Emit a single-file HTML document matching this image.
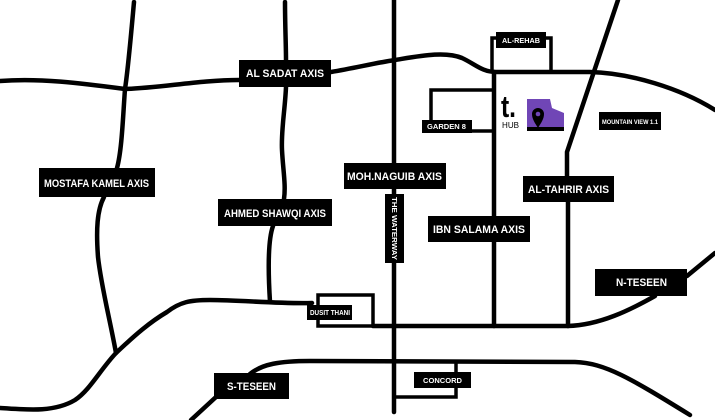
<!DOCTYPE html>
<html><head><meta charset="utf-8"><style>
html,body{margin:0;padding:0;background:#fff;}
svg{display:block;}
text{font-family:"Liberation Sans",sans-serif;font-weight:bold;fill:#fff;}
</style></head><body>
<svg width="715" height="420" viewBox="0 0 715 420" xmlns="http://www.w3.org/2000/svg">
<rect width="715" height="420" fill="#fff"/>
<g fill="none" stroke="#000" stroke-width="4.5" stroke-linecap="round" stroke-linejoin="round">
  <path d="M134 2 C131 35,128 70,125 89 C123 115,122 150,117 168"/>
  <path d="M104 197 C97 210,96 230,98 257 C101 285,110 320,116 353"/>
  <path d="M0 81 C40 78,80 83,125 89 C160 88,200 80,239 80"/>
  <path d="M285 2 C285 25,286 45,286 60"/>
  <path d="M286 87 C285 110,281 130,282 150 C283 170,286 185,284 199"/>
  <path d="M273 226 C268 240,268 270,270 302"/>
  <path d="M0 408 C30 410,55 412,75 400 C90 390,100 370,116 353 C135 335,150 322,167 312 C180 302,190 300,210 300 C240 300,280 304,312 303"/>
  <path d="M331 72 C355 68,375 63,395 60 C420 56,445 51,462 58 C475 64,482 72,496 72 L590 72 C630 73,680 88,715 110"/>
  <path d="M394 0 L394 412"/>
  <path d="M494 72 L494 326"/>
  <path d="M618 0 L567 152 L567 176"/>
  <path d="M568 202 L568 326"/>
  <path d="M373 326 L568 326 C600 325,630 310,655 296"/>
  <path d="M687 276 L715 253"/>
  <path d="M250 374 C262 364,280 361,310 361 L575 362 C605 363,630 378,690 415"/>
  <path d="M216 397 L191 420"/>
</g>
<g fill="none" stroke="#000" stroke-width="3.5" stroke-linejoin="miter">
  <path d="M318 305 L318 295 L373 295 L373 326 L318 326 L318 320"/>
  <path d="M456 362 L456 397 L394 397"/>
  <path d="M492 72 L492 38 L551 38 L551 72"/>
  <path d="M494 90 L431 90 L431 120"/>
  <path d="M472 131 L494 131"/>
</g>
<g fill="#000">
  <rect x="239" y="60" width="92" height="27"/>
  <rect x="39" y="168" width="116" height="29"/>
  <rect x="218" y="199" width="114" height="27"/>
  <rect x="344" y="163" width="102" height="26"/>
  <rect x="385" y="194" width="19" height="69"/>
  <rect x="428" y="216" width="102" height="26"/>
  <rect x="523" y="176" width="91" height="26"/>
  <rect x="595" y="269" width="92" height="27"/>
  <rect x="214" y="373" width="75" height="26"/>
  <rect x="307" y="305" width="45" height="15"/>
  <rect x="414" y="372" width="57" height="16"/>
  <rect x="422" y="120" width="50" height="13"/>
  <rect x="496" y="32" width="50" height="16"/>
  <rect x="599" y="112" width="62" height="18"/>
</g>
<g>
  <text x="246" y="77" font-size="11" textLength="78" lengthAdjust="spacingAndGlyphs">AL SADAT AXIS</text>
  <text x="44" y="187" font-size="11" textLength="105" lengthAdjust="spacingAndGlyphs">MOSTAFA KAMEL AXIS</text>
  <text x="224" y="217" font-size="11" textLength="102" lengthAdjust="spacingAndGlyphs">AHMED SHAWQI AXIS</text>
  <text x="347" y="180" font-size="11" textLength="95" lengthAdjust="spacingAndGlyphs">MOH.NAGUIB AXIS</text>
  <text x="433" y="233" font-size="11" textLength="92" lengthAdjust="spacingAndGlyphs">IBN SALAMA AXIS</text>
  <text x="528" y="193" font-size="11" textLength="81" lengthAdjust="spacingAndGlyphs">AL-TAHRIR AXIS</text>
  <text x="616" y="286" font-size="11" textLength="51" lengthAdjust="spacingAndGlyphs">N-TESEEN</text>
  <text x="227" y="390" font-size="11" textLength="49" lengthAdjust="spacingAndGlyphs">S-TESEEN</text>
  <text x="310" y="315" font-size="7" textLength="40" lengthAdjust="spacingAndGlyphs">DUSIT THANI</text>
  <text x="423" y="383" font-size="7" textLength="39" lengthAdjust="spacingAndGlyphs">CONCORD</text>
  <text x="427" y="129" font-size="7" textLength="39" lengthAdjust="spacingAndGlyphs">GARDEN 8</text>
  <text x="502" y="43" font-size="7" textLength="38" lengthAdjust="spacingAndGlyphs">AL-REHAB</text>
  <text x="602" y="124" font-size="6" textLength="56" lengthAdjust="spacingAndGlyphs">MOUNTAIN VIEW 1.1</text>
  <text transform="translate(392,197) rotate(90)" font-size="7" textLength="63" lengthAdjust="spacingAndGlyphs">THE WATERWAY</text>
</g>
<text x="501" y="117" font-size="31" textLength="15" lengthAdjust="spacingAndGlyphs" style="font-weight:bold;fill:#000">t.</text>
<text x="502" y="128" font-size="8" textLength="17" lengthAdjust="spacingAndGlyphs" style="font-weight:normal;fill:#000">HUB</text>
<path d="M527 99 L550 99 L552 108 L564 113 L564 131 L527 131 Z" fill="#7046b6"/>
<rect x="527" y="127" width="37" height="4" fill="#000"/>
<path d="M538 128 C535 123,532 119,532 114 A6 6 0 0 1 544 114 C544 119,541 123,538 128 Z" fill="#000"/>
<circle cx="538" cy="114" r="2.3" fill="#7046b6"/>
</svg>
</body></html>
